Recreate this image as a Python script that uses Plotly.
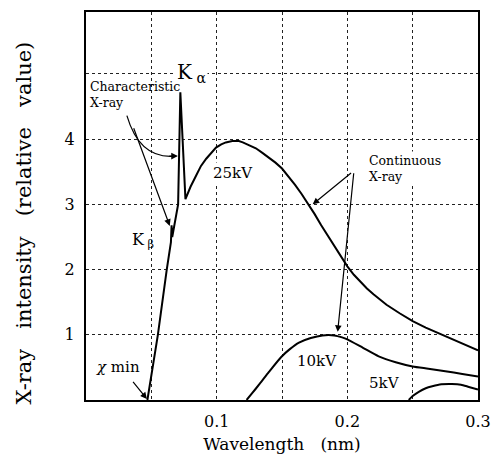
import plotly.graph_objects as go

# ---- data ----
wl_25kv = [0.047, 0.055, 0.0618, 0.0650, 0.0655, 0.0660, 0.0705, 0.0718, 0.0722, 0.0761,
           0.0800, 0.0845, 0.0880, 0.0920, 0.0960, 0.0995, 0.1035, 0.1070, 0.1120, 0.1170,
           0.1200, 0.1250, 0.1300, 0.1350, 0.1400, 0.1450, 0.1500, 0.1550, 0.1600, 0.1650,
           0.1700, 0.1750, 0.1800, 0.1850, 0.1900, 0.1950, 0.2000, 0.2050, 0.2100, 0.2150,
           0.2200, 0.2250, 0.2300, 0.2400, 0.2500, 0.2600, 0.2700, 0.2800, 0.2900, 0.3000]
int_25kv = [0.0, 1.0, 2.0, 2.42, 2.68, 2.50, 3.0, 4.0, 4.72, 3.08,
            3.27, 3.45, 3.59, 3.70, 3.80, 3.87, 3.92, 3.95, 3.97, 3.97,
            3.95, 3.91, 3.86, 3.79, 3.72, 3.64, 3.55, 3.43, 3.30, 3.16,
            3.01, 2.85, 2.68, 2.52, 2.36, 2.20, 2.05, 1.92, 1.81, 1.71,
            1.62, 1.54, 1.46, 1.33, 1.21, 1.11, 1.02, 0.93, 0.84, 0.76]

wl_10kv = [0.1229, 0.127, 0.133, 0.140, 0.1494, 0.156, 0.163, 0.172, 0.181, 0.190,
           0.196, 0.200, 0.212, 0.224, 0.237, 0.250, 0.262, 0.275, 0.288, 0.300]
int_10kv = [0.0, 0.10, 0.25, 0.43, 0.66, 0.78, 0.88, 0.95, 0.99, 0.99,
            0.96, 0.93, 0.80, 0.67, 0.58, 0.515, 0.48, 0.44, 0.40, 0.36]

wl_5kv = [0.247, 0.250, 0.255, 0.260, 0.265, 0.272, 0.280, 0.287, 0.293, 0.300]
int_5kv = [0.0, 0.06, 0.13, 0.18, 0.21, 0.24, 0.245, 0.235, 0.20, 0.16]

x_tickvals = [0.1, 0.2, 0.3]
x_ticktext = ["0.1", "0.2", "0.3"]
y_tickvals = [1, 2, 3, 4]
y_ticktext = ["1", "2", "3", "4"]

FONT = "DejaVu Serif"
GRID = "#222"

fig = go.Figure()
for wl, inten, name in [(wl_25kv, int_25kv, "25kV"),
                        (wl_10kv, int_10kv, "10kV"),
                        (wl_5kv, int_5kv, "5kV")]:
    fig.add_trace(go.Scatter(
        x=wl, y=inten, mode="lines", name=name,
        line=dict(color="black", width=2,
                  shape="linear" if name == "25kV" else "spline", smoothing=0.6),
        showlegend=False, hoverinfo="skip"))

ann = []


def label(x, y, text, size, xanchor="center", yanchor="middle", align="center", bg=None):
    d = dict(x=x, y=y, xref="x", yref="y", text=text, showarrow=False,
             font=dict(family=FONT, size=size, color="black"),
             xanchor=xanchor, yanchor=yanchor, align=align)
    if bg:
        d["bgcolor"] = bg
    ann.append(d)


def arrow(x0, y0, x1, y1):
    ann.append(dict(x=x1, y=y1, ax=x0, ay=y0, xref="x", yref="y", axref="x", ayref="y",
                    text="", showarrow=True, arrowhead=2, arrowsize=1.1,
                    arrowwidth=1.2, arrowcolor="black"))


label(0.0680, 5.02, "K<sub> α</sub>", 20, xanchor="left", bg="white")
label(0.0340, 2.45, "K<sub> β</sub>", 16, xanchor="left")
label(0.0244, 0.50, "<i>χ</i> min", 15)
label(0.0015, 4.96, "Characteristic<br>X-ray", 12.5, xanchor="left", yanchor="top",
      align="left")
label(0.2150, 3.82, "Continuous<br>X-ray", 12.5, xanchor="left", yanchor="top",
      align="left", bg="white")
label(0.1122, 3.48, "25kV", 15, bg="white")
label(0.1770, 0.60, "10kV", 15)
label(0.2282, 0.26, "5kV", 15)

arrow(0.0361, 4.19, 0.0641, 2.67)
arrow(0.0351, 0.30, 0.0466, 0.015)
arrow(0.2040, 3.50, 0.1735, 3.00)
arrow(0.2050, 3.50, 0.1926, 1.045)
# arrowhead for curved arrow
ann.append(dict(x=0.0703, y=3.74, ax=-10, ay=0, xref="x", yref="y",
                text="", showarrow=True, arrowhead=2, arrowsize=1.1,
                arrowwidth=1.2, arrowcolor="black"))

# y-axis title placed as rotated annotation (slightly below plot centre, as in reference)
ann.append(dict(x=-0.158, y=0.455, xref="paper", yref="paper", textangle=-90,
                text="X-ray\u00a0\u00a0\u00a0intensity\u00a0\u00a0\u00a0(relative\u00a0\u00a0\u00a0value)",
                showarrow=False, font=dict(family=FONT, size=21, color="black"),
                xanchor="center", yanchor="middle"))

shapes = [dict(type="path", xref="x", yref="y",
               path="M 0.0313,4.36 Q 0.0412,3.68 0.0690,3.74",
               line=dict(color="black", width=1.2))]

fig.update_layout(
    width=501, height=461,
    margin=dict(l=86, r=21, t=10, b=58),
    paper_bgcolor="white", plot_bgcolor="white",
    font=dict(family=FONT, size=16, color="black"),
    annotations=ann, shapes=shapes,
    xaxis=dict(range=[0, 0.3], tickvals=x_tickvals, ticktext=x_ticktext,
               showgrid=True, gridcolor=GRID, griddash="dot", gridwidth=1,
               minor=dict(tick0=0, dtick=0.05, showgrid=True, gridcolor=GRID,
                          griddash="dot", gridwidth=1, ticks=""),
               showline=True, mirror=True, linecolor="black", linewidth=2,
               ticks="", zeroline=False, tickfont=dict(size=16), ticklabelstandoff=6,
               title=dict(text="Wavelength\u00a0\u00a0\u00a0(nm)", font=dict(size=17),
                          standoff=8)),
    yaxis=dict(range=[0, 5.95], tickvals=y_tickvals, ticktext=y_ticktext,
               showgrid=True, gridcolor=GRID, griddash="dot", gridwidth=1,
               minor=dict(tick0=0, dtick=1, showgrid=True, gridcolor=GRID,
                          griddash="dot", gridwidth=1, ticks=""),
               showline=True, mirror=True, linecolor="black", linewidth=2,
               ticks="", zeroline=False, tickfont=dict(size=16), ticklabelstandoff=6),
)

fig.write_html("out.html")
